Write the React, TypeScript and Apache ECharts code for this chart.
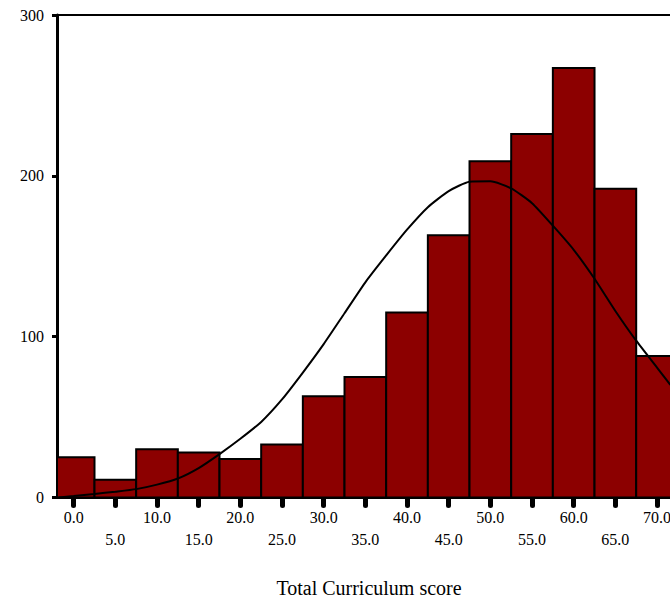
import React, { useEffect, useRef } from "react";
import * as echarts from "echarts";

// Histogram bins (centre of each 5-point bin) and counts
const binCenters = [0, 5, 10, 15, 20, 25, 30, 35, 40, 45, 50, 55, 60, 65, 70];
const binCounts = [25, 11, 30, 28, 24, 33, 63, 75, 115, 163, 209, 226, 267, 192, 88];

// Normal curve
const curveX = [-1.8, 0, 2.5, 5, 7.5, 10, 12.5, 15, 17.5, 20, 22.5, 25, 27.5, 30, 32.5, 35, 37.5, 40, 42.5, 45, 47.5, 50, 52.5, 55, 57.5, 60, 62.5, 65, 67.5, 70, 71.6];
const curveY = [0, 0.9, 2.2, 3.6, 5.2, 8.0, 11.8, 18.3, 27, 36.5, 47, 61, 77.7, 95.4, 114.6, 133.8, 150.5, 166.5, 180.5, 190.5, 196.3, 196.6, 192.2, 183, 169, 154, 136, 116, 97.5, 80.8, 70];

const xTickValues = [0, 5, 10, 15, 20, 25, 30, 35, 40, 45, 50, 55, 60, 65, 70];
const yTickValues = [0, 100, 200, 300];

const FONT = '"Liberation Serif", "Times New Roman", serif';

export default function App() {
  const ref = useRef<HTMLDivElement>(null);

  useEffect(() => {
    if (!ref.current) return;
    const chart = echarts.init(ref.current, undefined, { renderer: "svg" });
    const barData = binCenters.map((c, i) => [c, binCounts[i]]);
    const lineData = curveX.map((x, i) => [x, curveY[i]]);

    chart.setOption({
      animation: false,
      backgroundColor: "#ffffff",
      grid: {
        left: 57,
        top: 15,
        bottom: 102.5,
        right: 21.3,
        show: true,
        borderColor: "#000",
        borderWidth: 2,
        backgroundColor: "transparent",
      },
      xAxis: {
        type: "value",
        min: -2,
        max: 75,
        splitLine: { show: false },
        axisLine: { show: true, onZero: false, lineStyle: { color: "#000", width: 3 } },
        axisTick: {
          show: true,
          customValues: xTickValues,
          length: 8,
          lineStyle: { color: "#000", width: 5, cap: "round" },
        },
        axisLabel: {
          customValues: xTickValues,
          interval: 0,
          margin: 9,
          color: "#000",
          fontFamily: FONT,
          fontSize: 16,
          lineHeight: 22,
          formatter: (v: number) => (v % 10 === 0 ? v.toFixed(1) : "\n" + v.toFixed(1)),
        },
      },
      yAxis: {
        type: "value",
        min: 0,
        max: 300,
        interval: 100,
        splitLine: { show: false },
        axisLine: { show: true, onZero: false, lineStyle: { color: "#000", width: 3 } },
        axisTick: { show: true, length: 5, lineStyle: { color: "#000", width: 3 } },
        axisLabel: {
          margin: 13,
          color: "#000",
          fontFamily: FONT,
          fontSize: 16,
          formatter: (v: number) => (yTickValues.indexOf(v) >= 0 ? String(v) : ""),
        },
      },
      series: [
        {
          type: "custom",
          z: 2,
          data: barData,
          renderItem: (params: any, api: any) => {
            const c = api.value(0);
            const n = api.value(1);
            const p0 = api.coord([c - 2.5, n]);
            const p1 = api.coord([c + 2.5, 0]);
            const rect = echarts.graphic.clipRectByRect(
              { x: p0[0], y: p0[1], width: p1[0] - p0[0], height: p1[1] - p0[1] },
              {
                x: params.coordSys.x,
                y: params.coordSys.y,
                width: params.coordSys.width,
                height: params.coordSys.height,
              }
            );
            if (!rect) return null;
            return {
              type: "rect",
              shape: rect,
              style: { fill: "#8c0000", stroke: "#000", lineWidth: 2 },
            };
          },
        },
        {
          type: "line",
          z: 5,
          data: lineData,
          showSymbol: false,
          smooth: 0.2,
          lineStyle: { color: "#000", width: 2 },
        },
      ],
      graphic: [
        {
          type: "text",
          x: 369,
          y: 588,
          style: {
            text: "Total Curriculum score",
            font: '20px "Liberation Serif", "Times New Roman", serif',
            fill: "#000",
            textAlign: "center",
            textVerticalAlign: "middle",
          },
        },
      ],
    });
    return () => chart.dispose();
  }, []);

  return (
    <div
      style={{
        position: "fixed",
        left: 0,
        top: 0,
        width: 670,
        height: 600,
        overflow: "hidden",
        background: "#fff",
      }}
    >
      <div ref={ref} style={{ width: 720, height: 600 }} />
    </div>
  );
}
